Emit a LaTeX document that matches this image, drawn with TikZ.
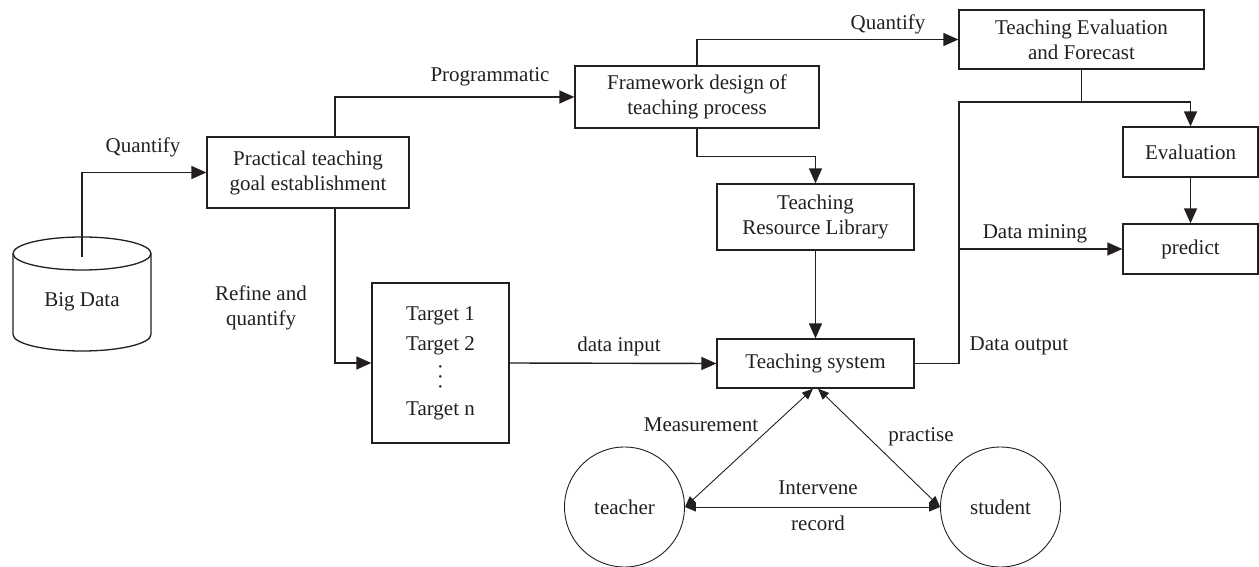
\documentclass[tikz,border=0pt]{standalone}
\usepackage{fontspec}
\setmainfont{Liberation Serif}
\usetikzlibrary{arrows.meta,calc}
\definecolor{ink}{HTML}{231F20}
\newcommand\tvdots{\rotatebox{90}{.\kern4.75pt.\kern4.75pt.}}
\begin{document}
\begin{tikzpicture}[x=1pt,y=-1pt,
  every node/.style={font=\fontsize{21}{25}\selectfont, text=ink},
  box/.style={draw=ink, line width=1.3pt, inner sep=0pt, align=center},
  person/.style={draw=ink, circle, line width=0.9pt, inner sep=0pt, minimum size=120pt},
  conn/.style={draw=ink, line width=1.4pt, -{Triangle[length=15pt,width=13pt]}},
  plain/.style={draw=ink, line width=1.4pt},
  dbl/.style={draw=ink, line width=0.9pt, {Triangle[length=11pt,width=9pt]}-{Triangle[length=11pt,width=9pt]}},
  lbl/.style={inner sep=0pt, align=center}]
\useasboundingbox (0,0) rectangle (1259,567);

% Big Data cylinder
\draw[draw=ink, line width=1.3pt] (82,253.5) ellipse [x radius=69pt, y radius=16.5pt];
\draw[draw=ink, line width=1.3pt] (13,253.5) -- (13,334.5) arc[start angle=180, end angle=360, x radius=69pt, y radius=16.5pt] -- (151,253.5);
\node[lbl] (bigdata) at (82,302) {Big Data};
\coordinate (bdtop) at (82,257);

% boxes
\node[box, minimum width=202pt, minimum height=71pt] (practical) at (308,172.5) {Practical teaching\\goal establishment};
\node[box, minimum width=244pt, minimum height=62pt] (framework) at (697,97) {Framework design of\\teaching process};
\node[box, minimum width=245pt, minimum height=59pt] (evalfc) at (1081.5,39.5) {Teaching Evaluation\\and Forecast};
\node[box, minimum width=197pt, minimum height=66pt] (trl) at (815.5,217) {Teaching\\Resource Library};
\node[box, minimum width=135pt, minimum height=50pt] (evaluation) at (1190.5,152) {Evaluation};
\node[box, minimum width=135pt, minimum height=50pt] (predict) at (1190.5,249) {predict};
\node[box, minimum width=137pt, minimum height=160pt, font=\fontsize{21}{30}\selectfont] (targets) at (440.5,363) {Target 1\\Target 2\\[9pt]\tvdots\\[-4pt]Target n};
\node[box, minimum width=197pt, minimum height=49pt] (ts) at (815.5,363.5) {Teaching system};
\node[person] (teacher) at (624.5,507) {teacher};
\node[person] (student) at (1000.5,507) {student};

% connectors
\draw[conn] (bdtop) |- (practical.west);
\draw[conn] ($(practical.north)+(27,0)$) |- (framework.west);
\draw[conn] ($(practical.south)+(27,0)$) |- (targets.west);
\draw[conn] (framework.north) |- (evalfc.west);
\draw[conn] (framework.south) -- ++(0,28) -| (trl.north);
\draw[conn] (trl.south) -- (ts.north);
\draw[conn] (targets.east) -- (ts.west);
\coordinate (jx) at (959,102);
\draw[conn] (ts.east) -| (jx) -| (evaluation.north);
\draw[plain] (evalfc.south) -- (evalfc.south |- jx);
\coordinate (dm) at (959,249);
\draw[conn] (dm) -- (predict.west);
\draw[conn] (evaluation.south) -- (predict.north);
\draw[dbl] ($(ts.south)+(-2.5,0)$) -- (teacher.east);
\draw[dbl] ($(ts.south)+(2.5,0)$) -- (student.west);
\draw[dbl] (teacher.east) -- (student.west);

% labels
\node[lbl] (lq1) at (143,147) {Quantify};
\node[lbl] (lprog) at (490,77) {Programmatic};
\node[lbl] (lrefine) at (261,308) {Refine and\\quantify};
\node[lbl] (lq2) at (888,24) {Quantify};
\node[lbl] (lin) at (619,346) {data input};
\node[lbl] (lout) at (1019,346) {Data output};
\node[lbl] (lmine) at (1035,234) {Data mining};
\node[lbl] (lmeas) at (701,425) {Measurement};
\node[lbl] (lprac) at (921,437) {practise};
\node[lbl] (linter) at (818,488) {Intervene};
\node[lbl] (lrec) at (818,523) {record};
\end{tikzpicture}
\end{document}
